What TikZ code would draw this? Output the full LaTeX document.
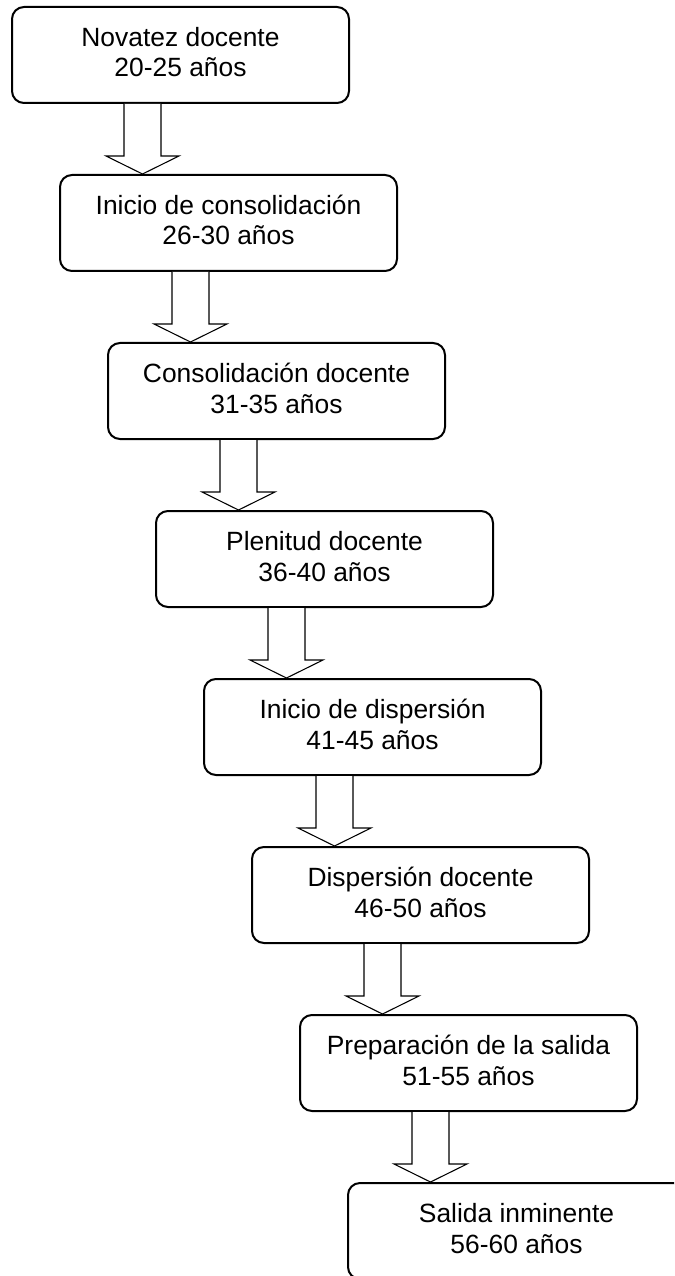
\documentclass[tikz,border=0pt]{standalone}
\usepackage{fontspec}
\setmainfont{Liberation Sans}
\usetikzlibrary{calc}
\tikzset{
  stage/.style={draw=black, line width=1.5pt, rounded corners=9pt,
    minimum width=252.75pt, minimum height=72pt, inner sep=0pt},
  lbl/.style={anchor=base, inner sep=0pt, font=\fontsize{19.8}{22.5}\selectfont},
  fatarrow/.style={draw=black, line width=0.8pt, fill=white, line join=miter}
}
\begin{document}
\begin{tikzpicture}[x=0.75pt, y=-0.75pt]
\useasboundingbox (0,0) rectangle (674,1276);
\clip (0,0) rectangle (674,1276);
\foreach \i/\ta/\tb in {
  1/Novatez docente/20-25 años,
  2/Inicio de consolidación/26-30 años,
  3/Consolidación docente/31-35 años,
  4/Plenitud docente/36-40 años,
  5/Inicio de dispersión/41-45 años,
  6/Dispersión docente/46-50 años,
  7/Preparación de la salida/51-55 años,
  8/Salida inminente/56-60 años}{
  \node[stage] (b\i) at ({180.5+48*(\i-1)}, {55+168*(\i-1)}) {};
  \node[lbl] (t\i a) at ($(b\i.center)+(0,-8.5)$) {\ta};
  \node[lbl] (t\i b) at ($(b\i.center)+(0,22)$) {\tb};
}
\foreach \a/\b in {1/2,2/3,3/4,4/5,5/6,6/7,7/8}{
  \coordinate (s\a) at ($(b\a.south west)+(131.5,0)$);
  \coordinate (e\a) at (s\a |- b\b.north);
  \draw[fatarrow] ($(s\a)+(-18.5,0)$) -- ($(e\a)+(-18.5,-18)$)
     -- ($(e\a)+(-36.5,-18)$) -- (e\a) -- ($(e\a)+(36.5,-18)$)
     -- ($(e\a)+(18.5,-18)$) -- ($(s\a)+(18.5,0)$);
}
\end{tikzpicture}
\end{document}
